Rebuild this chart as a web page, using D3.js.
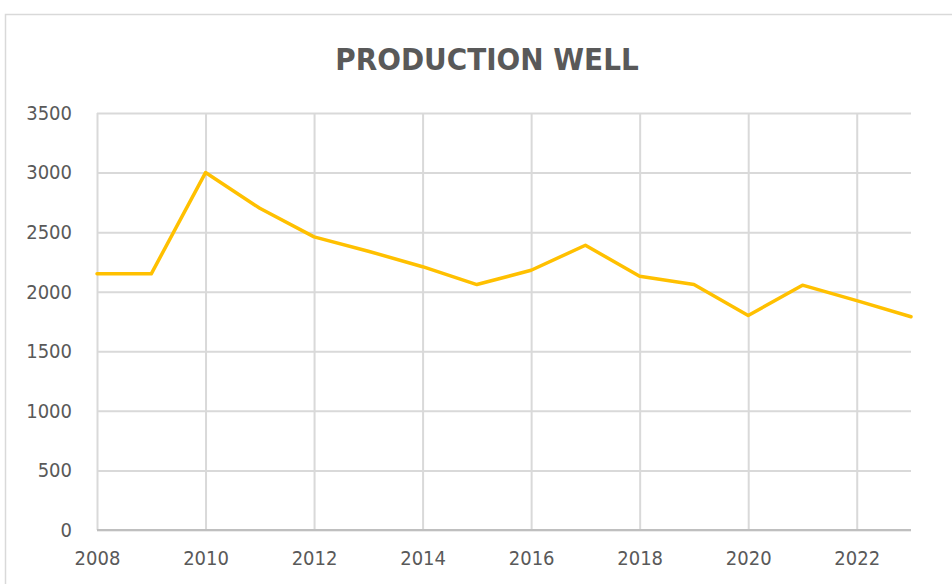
<!DOCTYPE html>
<html>
<head>
<meta charset="utf-8">
<script src="https://cdn.jsdelivr.net/npm/d3@7"></script>
<style>
body{margin:0;background:#fff;}
svg{display:block;}
</style>
</head>
<body>
<svg id="chart" width="952" height="584"></svg>
<script>
var years = [2008,2009,2010,2011,2012,2013,2014,2015,2016,2017,2018,2019,2020,2021,2022,2023];
var production = [2150,2150,3000,2700,2460,2340,2210,2060,2180,2390,2130,2060,1800,2055,1925,1790];
var yTicks = [0,500,1000,1500,2000,2500,3000,3500];
var xTicks = [2008,2010,2012,2014,2016,2018,2020,2022];

var width = 952, height = 584;
var margin = {left:97, right:41, top:113, bottom:54};

var svg = d3.select("#chart");
var font = "'Liberation Sans Narrow','DejaVu Sans Condensed',sans-serif";

// chart frame (cut off at right and bottom like the source)
svg.append("rect")
    .attr("x",5.5).attr("y",14.5)
    .attr("width",960).attr("height",600)
    .attr("fill","none")
    .attr("stroke","#d9d9d9")
    .attr("stroke-width",1.5);

var x = d3.scaleLinear().domain([2008,2023]).range([margin.left,width-margin.right]);
var y = d3.scaleLinear().domain([0,3500]).range([height-margin.bottom,margin.top]);

// horizontal gridlines
svg.append("g")
    .attr("transform","translate("+margin.left+",0)")
    .call(d3.axisLeft(y).tickValues(yTicks).tickSize(-(width-margin.left-margin.right)).tickFormat(""))
    .call(function(g){
        g.select(".domain").remove();
        g.selectAll("line").attr("stroke","#d9d9d9").attr("stroke-width",2);
    });

// vertical gridlines
svg.append("g")
    .attr("transform","translate(0,"+margin.top+")")
    .call(d3.axisBottom(x).tickValues(xTicks).tickSize(height-margin.bottom-margin.top).tickFormat(""))
    .call(function(g){
        g.select(".domain").remove();
        g.selectAll("line").attr("stroke","#d9d9d9").attr("stroke-width",2);
    });

// bottom axis line
svg.append("line")
    .attr("x1",margin.left).attr("x2",width-margin.right)
    .attr("y1",y(0)).attr("y2",y(0))
    .attr("stroke","#bfbfbf").attr("stroke-width",2);

// y labels
svg.append("g")
    .attr("transform","translate("+(margin.left-22)+",0)")
    .call(d3.axisLeft(y).tickValues(yTicks).tickSize(0).tickFormat(d3.format("d")))
    .call(function(g){
        g.select(".domain").remove();
        g.selectAll("text")
            .attr("fill","#595959")
            .attr("font-family",font)
            .attr("font-size","20px")
            .attr("text-anchor","end")
            .attr("dx",0);
    });

// x labels
svg.append("g")
    .attr("transform","translate(0,"+(y(0)+18)+")")
    .call(d3.axisBottom(x).tickValues(xTicks).tickSize(0).tickFormat(d3.format("d")))
    .call(function(g){
        g.select(".domain").remove();
        g.selectAll("text")
            .attr("fill","#595959")
            .attr("font-family",font)
            .attr("font-size","20px");
    });

// title
svg.append("text")
    .attr("x",487).attr("y",70)
    .attr("text-anchor","middle")
    .attr("fill","#595959")
    .attr("font-family",font)
    .attr("font-weight","bold")
    .attr("font-size","31px")
    .text("PRODUCTION WELL");

// line
var line = d3.line()
    .x(function(d,i){ return x(years[i]); })
    .y(function(d){ return y(d); });

svg.append("path")
    .datum(production)
    .attr("d",line)
    .attr("fill","none")
    .attr("stroke","#FFC000")
    .attr("stroke-width",3.5)
    .attr("stroke-linejoin","round")
    .attr("stroke-linecap","round");
</script>
</body>
</html>
